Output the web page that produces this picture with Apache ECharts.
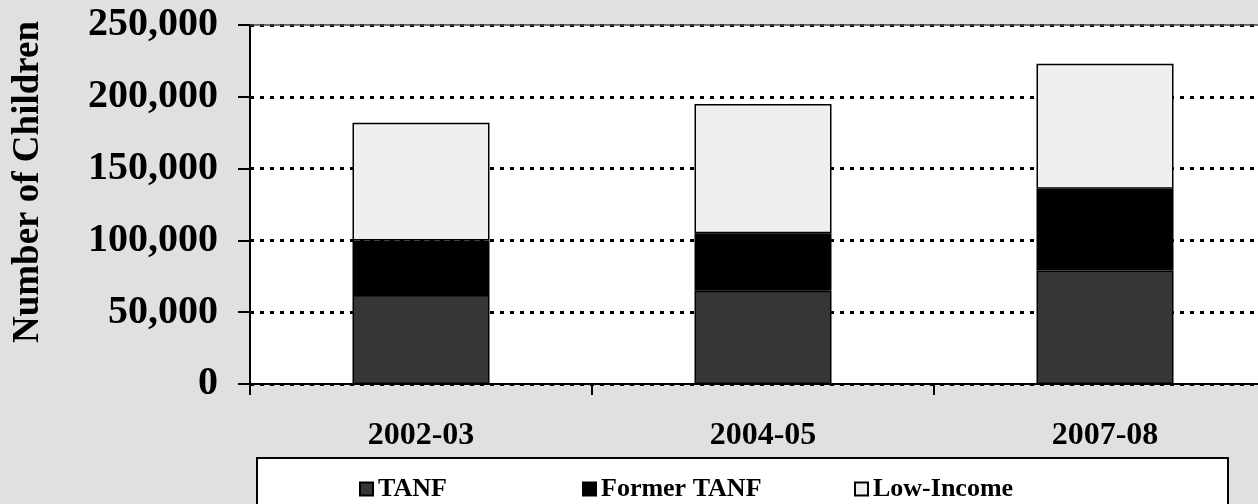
<!DOCTYPE html>
<html><head><meta charset="utf-8">
<script src="https://cdn.jsdelivr.net/npm/echarts@6/dist/echarts.min.js"></script>
<style>html,body{margin:0;padding:0;background:#e0e0e0;overflow:hidden}#c{width:1276px;height:504px}</style>
</head><body><div id="c"></div>
<script>
const categories = ['2002-03', '2004-05', '2007-08'];
const tanf = [62000, 65000, 79000];
const formerTanf = [38000, 40000, 57000];
const lowIncome = [82000, 90000, 87000];
const yTicks = [0, 50000, 100000, 150000, 200000, 250000];
const yTitle = 'Number of Children';

const FONT = '"Liberation Serif", "Times New Roman", serif';
const chart = echarts.init(document.getElementById('c'));
const fmt = v => v.toLocaleString('en-US');
const mk = (name, data, color) => ({
  name, type: 'bar', stack: 'a', data, barWidth: 137,
  itemStyle: { color, borderColor: '#000', borderWidth: 1.5 },
  emphasis: { disabled: true }
});
const series = [mk('TANF', tanf, '#363636'), mk('Former TANF', formerTanf, '#000000'), mk('Low-Income', lowIncome, '#efefef')];
series[0].markLine = {
  silent: true, symbol: 'none', label: { show: false },
  lineStyle: { color: '#444', width: 1.5, type: 'solid' },
  data: [{ yAxis: yTicks[yTicks.length - 1] }]
};
const legendBase = {
  orient: 'horizontal', top: 471, itemWidth: 13, itemHeight: 13, itemGap: 5,
  icon: 'rect', textStyle: { fontFamily: FONT, fontWeight: 'bold', fontSize: 26, color: '#000' }
};
chart.setOption({
  backgroundColor: '#e0e0e0',
  animation: false,
  grid: { left: 250, top: 25, right: 0, height: 359, backgroundColor: '#fff', show: true, borderWidth: 0 },
  graphic: [
    { type: 'rect', shape: { x: 257, y: 458, width: 971, height: 60 }, style: { fill: '#fff', stroke: '#000', lineWidth: 2 }, z: -1 },
    { type: 'text', x: 28, y: 182, rotation: Math.PI / 2, style: { text: yTitle, font: 'bold 37px ' + FONT, fill: '#000', textAlign: 'center', textVerticalAlign: 'middle' } }
  ],
  legend: [
    Object.assign({}, legendBase, { left: 354, data: ['TANF'] }),
    Object.assign({}, legendBase, { left: 577, data: ['Former TANF'] }),
    Object.assign({}, legendBase, { left: 849, data: ['Low-Income'] })
  ],
  xAxis: {
    type: 'category', data: categories,
    axisLine: { lineStyle: { color: '#000', width: 2 } },
    axisTick: { show: true, length: 11, lineStyle: { color: '#000', width: 2 } },
    axisLabel: { fontFamily: FONT, fontWeight: 'bold', fontSize: 32, color: '#000', margin: 36 }
  },
  yAxis: {
    type: 'value', min: 0, max: 250000, interval: 50000,
    axisLine: { show: true, lineStyle: { color: '#000', width: 2 } },
    axisTick: { show: true, length: 12, lineStyle: { color: '#000', width: 2 } },
    axisLabel: { fontFamily: FONT, fontWeight: 'bold', fontSize: 40, color: '#000', margin: 32, formatter: fmt },
    splitLine: { show: true, lineStyle: { color: '#000', width: 3, type: [4, 6] } }
  },
  series
});
</script></body></html>
